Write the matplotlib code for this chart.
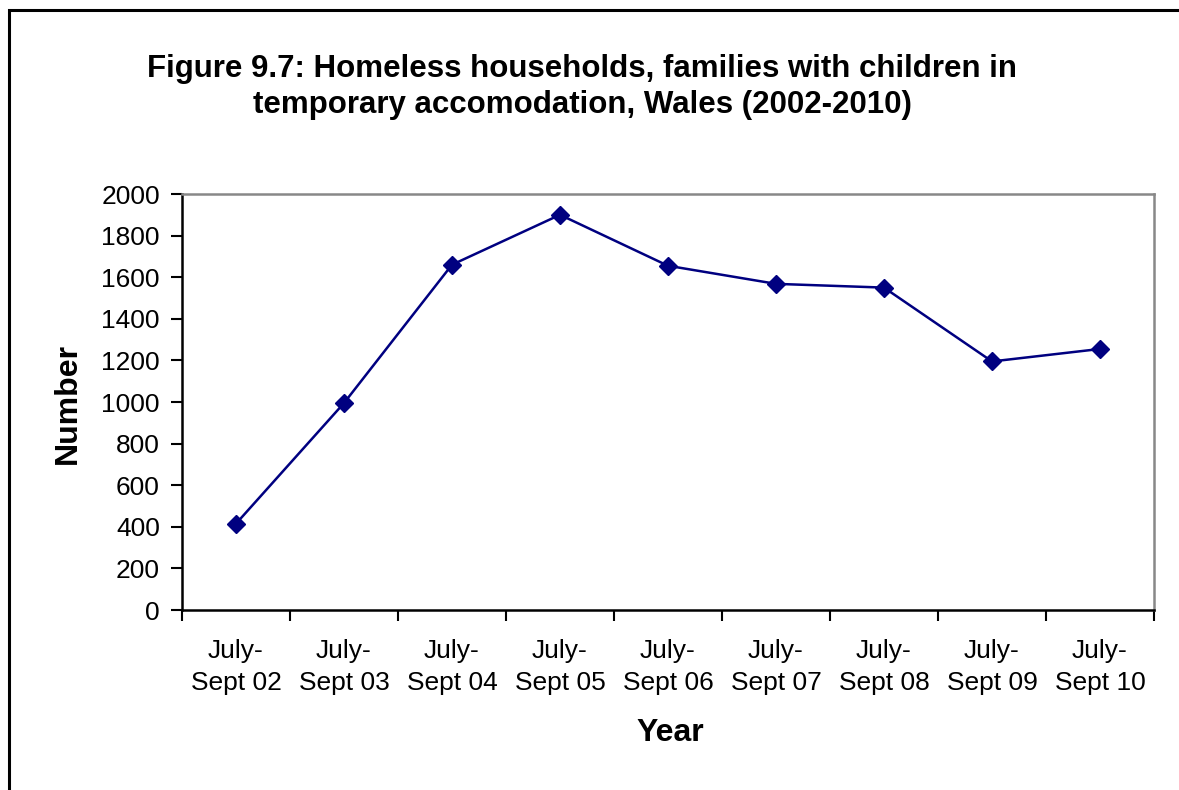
import matplotlib
matplotlib.use("Agg")
import matplotlib.pyplot as plt
from matplotlib.patches import Rectangle

plt.rcParams['font.family'] = ['Liberation Sans', 'DejaVu Sans']

categories = ["July-\nSept 02", "July-\nSept 03", "July-\nSept 04", "July-\nSept 05",
              "July-\nSept 06", "July-\nSept 07", "July-\nSept 08", "July-\nSept 09",
              "July-\nSept 10"]
values = [415, 995, 1660, 1900, 1655, 1568, 1550, 1195, 1255]
yticks = [0, 200, 400, 600, 800, 1000, 1200, 1400, 1600, 1800, 2000]

W, H = 1179, 790
fig = plt.figure(figsize=(W / 100, H / 100), dpi=100)

# outer border (only left and top visible)
fig.patches.append(Rectangle((9 / W, -0.1), 1.2, (H - 10) / H + 0.1, transform=fig.transFigure,
                             fill=False, edgecolor='black', linewidth=2.2))

left, right, top, bottom = 182, 1154, 194, 610
ax = fig.add_axes([left / W, 1 - bottom / H, (right - left) / W, (bottom - top) / H])

x = list(range(len(values)))
ax.plot(x, values, color='#000080', linewidth=1.8, marker='D', markersize=9,
        markerfacecolor='#000080', markeredgecolor='#000080')

ax.set_xlim(-0.5, len(values) - 0.5)
ax.set_ylim(0, 2000)
ax.set_yticks(yticks)
ax.set_yticklabels([str(v) for v in yticks])
ax.set_xticks([i - 0.5 for i in range(len(values) + 1)])
ax.set_xticklabels([])
ax.set_xticks(x, minor=True)
ax.set_xticklabels(categories, minor=True, linespacing=1.4)
ax.tick_params(axis='x', which='minor', length=0, labelsize=19, pad=21)
ax.tick_params(axis='x', which='major', direction='out', length=8, width=1.5, color='black')
ax.tick_params(axis='y', direction='out', length=8, width=1.5, labelsize=19, pad=8)

for s in ['top', 'right']:
    ax.spines[s].set_color('#888888')
    ax.spines[s].set_linewidth(1.8)
for s in ['left', 'bottom']:
    ax.spines[s].set_color('black')
    ax.spines[s].set_linewidth(1.8)

fig.text(68 / W, 1 - 403 / H, "Number", fontsize=23, fontweight='bold', ha='center', va='center',
         rotation=90)
fig.text(670 / W, 1 - 733 / H, "Year", fontsize=23, fontweight='bold', ha='center', va='center')
fig.text(582 / W, 1 - 87 / H,
         "Figure 9.7: Homeless households, families with children in\ntemporary accomodation, Wales (2002-2010)",
         fontsize=22.5, fontweight='bold', ha='center', va='center', linespacing=1.28)

fig.savefig("out.png", dpi=100)
